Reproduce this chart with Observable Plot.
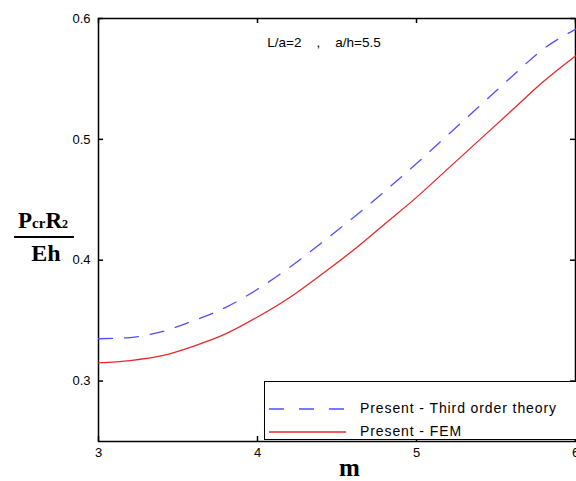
<!DOCTYPE html>
<html><head><meta charset="utf-8">
<script src="https://cdn.jsdelivr.net/npm/d3@7"></script>
<script src="https://cdn.jsdelivr.net/npm/@observablehq/plot@0.6"></script>
<style>
body{margin:0;background:#fff;}
#wrap{position:relative;width:576px;height:481px;overflow:hidden;font-family:"Liberation Sans",Arial,sans-serif;}
.ylab{position:absolute;font-family:"Liberation Serif","DejaVu Serif",serif;font-weight:bold;color:#000;}
.leg{position:absolute;left:264px;top:381px;width:330px;height:59px;border:1.5px solid #000;background:#fff;box-sizing:border-box;}
.leg div{position:absolute;left:95px;font-size:14px;letter-spacing:0.9px;color:#000;white-space:nowrap;}
</style></head>
<body><div id="wrap"></div>
<script>
const mVals = [3, 3.2, 3.4, 3.6, 3.8, 4.0, 4.2, 4.4, 4.6, 4.8, 5.0, 5.2, 5.4, 5.6, 5.8, 6.0];
const thirdOrder = [0.335, 0.336, 0.341, 0.350, 0.361, 0.376, 0.394, 0.414, 0.435, 0.457, 0.480, 0.504, 0.528, 0.552, 0.575, 0.591];
const fem = [0.315, 0.317, 0.321, 0.329, 0.339, 0.353, 0.369, 0.388, 0.408, 0.430, 0.452, 0.476, 0.500, 0.524, 0.548, 0.569];
const xTicks = [3, 4, 5, 6];
const yTicks = [0.3, 0.4, 0.5, 0.6];
const seriesNames = ["Present - Third order theory", "Present - FEM"];
const annotation = "L/a=2    ,    a/h=5.5";

const rows = [];
mVals.forEach((m, i) => {
  rows.push({m, v: thirdOrder[i], s: seriesNames[0]});
  rows.push({m, v: fem[i], s: seriesNames[1]});
});

const blue = "#4f4fff", red = "#e62a2a";
const W = 576, H = 481, mL = 98, mR = 1, mT = 18, mB = 40, tk = 5;

const chart = Plot.plot({
  width: W, height: H,
  marginLeft: mL, marginRight: mR, marginTop: mT, marginBottom: mB,
  x: {domain: [3, 6]},
  y: {domain: [0.25, 0.6]},
  style: {fontFamily: "Liberation Sans, Arial, sans-serif", fontSize: "13px", color: "#000"},
  marks: [
    Plot.frame({stroke: "#000", strokeWidth: 1.5}),
    Plot.axisX({ticks: xTicks, tickSize: 0, tickPadding: 6, tickFormat: d => d, label: null, fontSize: 13}),
    Plot.axisY({ticks: yTicks, tickSize: 0, tickPadding: 8, tickFormat: d => d.toFixed(1), label: null, fontSize: 13}),
    // inward ticks
    Plot.tickX(xTicks, {x: d => d, insetTop: H - mT - mB - tk, stroke: "#000", strokeWidth: 1.5}),
    Plot.tickX(xTicks, {x: d => d, insetBottom: H - mT - mB - tk, stroke: "#000", strokeWidth: 1.5}),
    Plot.tickY(yTicks, {y: d => d, insetRight: W - mL - mR - tk, stroke: "#000", strokeWidth: 1.5}),
    Plot.tickY(yTicks, {y: d => d, insetLeft: W - mL - mR - tk, stroke: "#000", strokeWidth: 1.5}),
    Plot.line(rows.filter(d => d.s === seriesNames[0]), {x: "m", y: "v", stroke: blue, strokeWidth: 1.3, strokeDasharray: "14,12", curve: "monotone-x"}),
    Plot.line(rows.filter(d => d.s === seriesNames[1]), {x: "m", y: "v", stroke: red, strokeWidth: 1.3, curve: "monotone-x"}),
    Plot.text([annotation], {frameAnchor: "top", dx: -13, dy: 19, text: d => d, fontSize: 13.5, fill: "#000"})
  ]
});
const wrap = document.getElementById("wrap");
wrap.appendChild(chart);

// x axis title
const xl = document.createElement("div");
xl.className = "ylab";
xl.style.cssText += "left:339px;top:454px;font-size:25px;";
xl.textContent = "m";
wrap.appendChild(xl);

// y axis title fraction
const yl = document.createElement("div");
yl.className = "ylab";
yl.style.cssText += "left:10px;top:209px;width:66px;text-align:center;line-height:1;";
yl.innerHTML = '<div style="font-size:23px;white-space:nowrap;">P<span style="font-size:15px">cr</span>R<span style="font-size:12px">2</span></div>' +
  '<div style="border-top:2px solid #000;margin:4px 2px 3px 4px;"></div>' +
  '<div style="font-size:24px;padding-left:6px;">Eh</div>';
wrap.appendChild(yl);

// legend
const leg = document.createElement("div");
leg.className = "leg";
leg.innerHTML = `<svg width="100" height="58" style="position:absolute;left:0;top:0">
<line x1="4" y1="27" x2="81" y2="27" stroke="${blue}" stroke-width="1.5" stroke-dasharray="15,15"/>
<line x1="4" y1="50" x2="81" y2="50" stroke="${red}" stroke-width="1.5"/></svg>
<div style="top:18px">${seriesNames[0]}</div><div style="top:41px">${seriesNames[1]}</div>`;
wrap.appendChild(leg);
</script>
</body></html>
